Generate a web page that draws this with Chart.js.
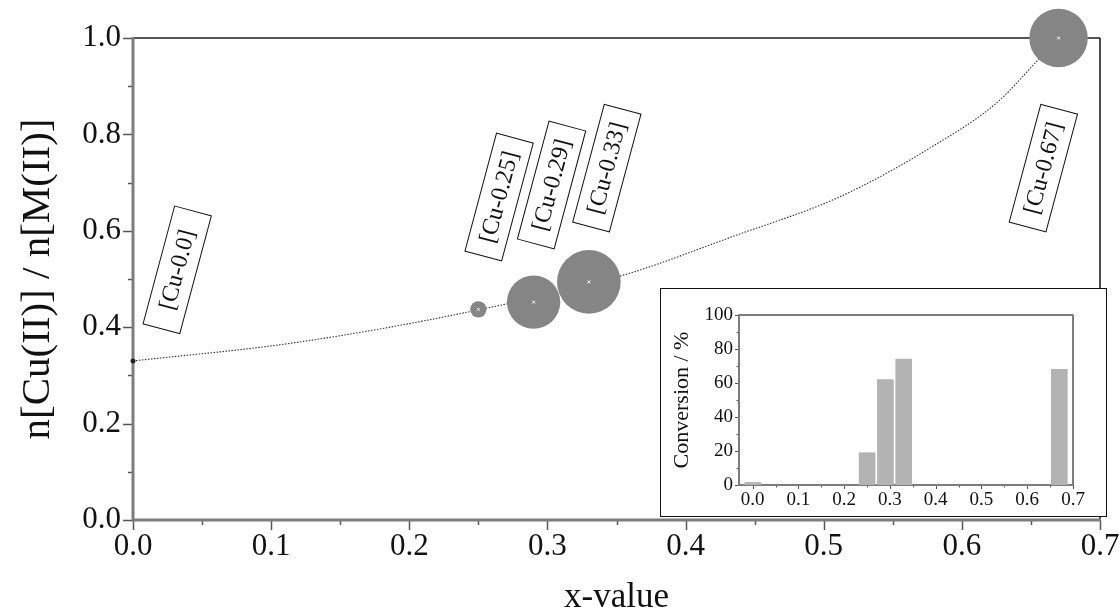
<!DOCTYPE html>
<html>
<head>
<meta charset="utf-8">
<script src="https://cdn.jsdelivr.net/npm/chart.js@4.4.1/dist/chart.umd.min.js"></script>
<style>
  html, body { margin: 0; padding: 0; background: #fff; }
  #wrap { position: relative; width: 1120px; height: 613px; }
  #inset { position: absolute; left: 660px; top: 288px; width: 445px; height: 227px;
           border: 1.5px solid #111; background: #fff; }
</style>
</head>
<body>
<div id="wrap">
  <canvas id="main" width="1120" height="613"></canvas>
  <div id="inset"><canvas id="conv" width="445" height="227"></canvas></div>
</div>
<script>
// Samples (x-value) and measured ratio n[Cu(II)] / n[M(II)]
const xValues = [0, 0.25, 0.29, 0.33, 0.67];
const cuRatio = [0.33, 0.437, 0.452, 0.494, 1.0];
const conversion = [1.5, 19, 62, 74, 68];

// dotted guide curve
const curveX = [0, 0.115, 0.24, 0.355, 0.434, 0.512, 0.577, 0.625, 0.654, 0.67];
const curveY = [0.33, 0.367, 0.43, 0.508, 0.588, 0.671, 0.772, 0.865, 0.951, 1.0];

// rotated sample labels (data coords of box centre)
const sampleLabels = ['[Cu-0.0]', '[Cu-0.25]', '[Cu-0.29]', '[Cu-0.33]', '[Cu-0.67]'];
const labelX = [0.032, 0.265, 0.303, 0.343, 0.659];
const labelY = [0.519, 0.670, 0.695, 0.730, 0.730];

const SERIF = '"Liberation Serif", "DejaVu Serif", serif';
const AXIS_GRAY = '#7d7d7d';

// draws frame + outward major/minor ticks
function frameTicks(opts) {
  return {
    id: 'frameTicks',
    beforeDatasetsDraw(chart) {
      const { ctx, chartArea: a, scales: { x, y } } = chart;
      ctx.save();
      ctx.strokeStyle = opts.tickColor;
      ctx.lineWidth = opts.tickWidth;
      for (let v = opts.xMin; v <= opts.xMax + 1e-9; v += opts.xMinor) {
        const px = Math.round(x.getPixelForValue(v)) + 0.5;
        const major = Math.abs(v / opts.xMajor - Math.round(v / opts.xMajor)) < 1e-6;
        const len = major ? opts.majorLen : opts.minorLen;
        ctx.beginPath(); ctx.moveTo(px, a.bottom); ctx.lineTo(px, a.bottom + len); ctx.stroke();
      }
      for (let v = opts.yMin; v <= opts.yMax + 1e-9; v += opts.yMinor) {
        const py = Math.round(y.getPixelForValue(v)) + 0.5;
        const major = Math.abs(v / opts.yMajor - Math.round(v / opts.yMajor)) < 1e-6;
        const len = major ? opts.majorLen : opts.minorLen;
        ctx.beginPath(); ctx.moveTo(a.left, py); ctx.lineTo(a.left - len, py); ctx.stroke();
      }
      // top and right
      ctx.lineWidth = opts.topWidth;
      ctx.strokeStyle = opts.topColor;
      ctx.beginPath(); ctx.moveTo(a.left, a.top); ctx.lineTo(a.right, a.top); ctx.stroke();
      ctx.lineWidth = opts.rightWidth;
      ctx.strokeStyle = opts.rightColor;
      ctx.beginPath(); ctx.moveTo(a.right, a.top); ctx.lineTo(a.right, a.bottom); ctx.stroke();
      // left and bottom axes
      ctx.lineWidth = opts.axisWidth;
      ctx.strokeStyle = opts.axisColor;
      ctx.beginPath(); ctx.moveTo(a.left, a.top - 1); ctx.lineTo(a.left, a.bottom); ctx.lineTo(a.right + 1, a.bottom); ctx.stroke();
      ctx.restore();
    }
  };
}

const labelBoxes = {
  id: 'labelBoxes',
  afterDatasetsDraw(chart) {
    const { ctx, scales: { x, y } } = chart;
    ctx.save();
    ctx.font = '24px ' + SERIF;
    ctx.textAlign = 'center';
    ctx.textBaseline = 'middle';
    ctx.strokeStyle = '#111';
    ctx.lineWidth = 1;
    sampleLabels.forEach((txt, i) => {
      ctx.save();
      ctx.translate(x.getPixelForValue(labelX[i]), y.getPixelForValue(labelY[i]));
      ctx.rotate(-75 * Math.PI / 180);
      ctx.fillStyle = '#fff';
      ctx.fillRect(-61, -19, 122, 38);
      ctx.strokeRect(-61, -19, 122, 38);
      ctx.fillStyle = '#111';
      ctx.fillText(txt, 0, 1);
      ctx.restore();
    });
    ctx.restore();
  }
};

const bubbleData = xValues.map((v, i) => ({ x: v, y: cuRatio[i], r: Math.max(2.5, conversion[i] * 0.43) }));

new Chart(document.getElementById('main'), {
  type: 'bubble',
  data: {
    datasets: [
      {
        type: 'line',
        data: curveX.map((v, i) => ({ x: v, y: curveY[i] })),
        borderColor: '#333',
        borderWidth: 1.1,
        borderDash: [1.5, 1.5],
        pointRadius: 0,
        cubicInterpolationMode: 'monotone',
        fill: false,
        order: 3
      },
      {
        data: bubbleData,
        backgroundColor: bubbleData.map(d => d.r < 4 ? '#222' : '#858585'),
        borderWidth: 0,
        clip: false,
        order: 2
      },
      {
        type: 'scatter',
        data: xValues.map((v, i) => ({ x: v, y: cuRatio[i] })),
        pointStyle: 'crossRot',
        pointRadius: conversion.map(c => c < 5 ? 0 : 2),
        borderColor: '#fff',
        borderWidth: 1,
        clip: false,
        order: 1
      }
    ]
  },
  options: {
    responsive: false,
    animation: false,
    devicePixelRatio: 1,
    layout: { autoPadding: false, padding: { top: 38, right: 20, left: 0, bottom: 0 } },
    plugins: { legend: { display: false }, tooltip: { enabled: false } },
    scales: {
      x: {
        type: 'linear', min: 0, max: 0.7,
        afterFit: s => { s.height = 93; s.paddingLeft = 0; s.paddingRight = 0; },
        grid: { display: false, drawTicks: false },
        border: { display: false },
        ticks: { stepSize: 0.1, padding: 8, color: '#111', font: { family: SERIF, size: 31 },
                 callback: v => v.toFixed(1) },
        title: { display: true, text: 'x-value', color: '#111', font: { family: SERIF, size: 35 },
                 padding: { top: 0, bottom: -6 } }
      },
      y: {
        type: 'linear', min: 0, max: 1.0,
        afterFit: s => { s.width = 133; s.paddingTop = 0; s.paddingBottom = 0; },
        grid: { display: false, drawTicks: false },
        border: { display: false },
        ticks: { stepSize: 0.2, padding: 12, color: '#111', font: { family: SERIF, size: 31 },
                 callback: v => v.toFixed(1) },
        title: { display: true, text: 'n[Cu(II)] / n[M(II)]', color: '#111', font: { family: SERIF, size: 41 },
                 padding: { top: 14, bottom: 0 } }
      }
    }
  },
  plugins: [frameTicks({ xMin: 0, xMax: 0.7, xMinor: 0.05, xMajor: 0.1,
                         yMin: 0, yMax: 1.0, yMinor: 0.1, yMajor: 0.2,
                         majorLen: 10, minorLen: 5, tickColor: '#555', tickWidth: 1.5,
                         axisColor: AXIS_GRAY, axisWidth: 3,
                         topColor: '#555', topWidth: 2, rightColor: '#111', rightWidth: 1.5 }),
            labelBoxes]
});

// Inset: conversion bars
new Chart(document.getElementById('conv'), {
  type: 'bar',
  data: {
    datasets: [{
      data: xValues.map((v, i) => ({ x: v, y: conversion[i] })),
      backgroundColor: '#b3b3b3',
      borderWidth: 0,
      barThickness: 16
    }]
  },
  options: {
    responsive: false,
    animation: false,
    devicePixelRatio: 1,
    layout: { autoPadding: false, padding: { top: 26, right: 33, left: 0, bottom: 0 } },
    plugins: { legend: { display: false }, tooltip: { enabled: false } },
    scales: {
      x: {
        type: 'linear', min: -0.03, max: 0.7, offset: false,
        afterFit: s => { s.height = 31; s.paddingLeft = 0; s.paddingRight = 0; },
        afterBuildTicks: s => { s.ticks = [0, 0.1, 0.2, 0.3, 0.4, 0.5, 0.6, 0.7].map(v => ({ value: v })); },
        grid: { display: false, drawTicks: false },
        border: { display: false },
        ticks: { padding: 4, color: '#111', font: { family: SERIF, size: 19 }, maxRotation: 0,
                 callback: v => v.toFixed(1) }
      },
      y: {
        type: 'linear', min: 0, max: 100,
        afterFit: s => { s.width = 78; s.paddingTop = 0; s.paddingBottom = 0; },
        grid: { display: false, drawTicks: false },
        border: { display: false },
        ticks: { stepSize: 20, padding: 6, color: '#111', font: { family: SERIF, size: 19 } },
        title: { display: true, text: 'Conversion / %', color: '#111', font: { family: SERIF, size: 22 },
                 padding: { top: 8, bottom: 0 } }
      }
    }
  },
  plugins: [frameTicks({ xMin: 0, xMax: 0.7, xMinor: 0.05, xMajor: 0.1,
                         yMin: 0, yMax: 100, yMinor: 10, yMajor: 20,
                         majorLen: 4, minorLen: 2.5, tickColor: '#555', tickWidth: 1,
                         axisColor: AXIS_GRAY, axisWidth: 2,
                         topColor: AXIS_GRAY, topWidth: 2, rightColor: AXIS_GRAY, rightWidth: 2 })]
});
</script>
</body>
</html>
